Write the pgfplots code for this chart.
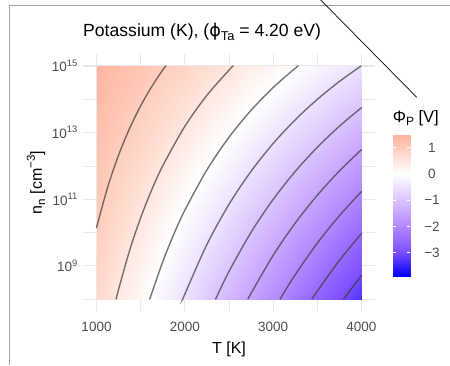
\documentclass[border=0pt]{standalone}
\usepackage{fontspec}
\setmainfont{Liberation Sans}
\newfontfamily\dejavu{DejaVu Sans}
\usepackage{pgfplots}
\pgfplotsset{compat=1.18}
\usepackage{pgfplotstable}

\definecolor{gridc}{RGB}{232,232,232}
\definecolor{tickc}{RGB}{77,77,77}
\definecolor{framec}{RGB}{160,160,160}
\definecolor{linec}{RGB}{60,60,60}

\newcommand\ticksize{\fontsize{13.5}{16}\selectfont}
\newcommand\pw[1]{10\raisebox{0.42em}{\fontsize{9.4}{10}\selectfont #1}}

\pgfplotsset{colormap={phimap}{rgb255(0cm)=(0,0,255) rgb255(1cm)=(126,81,255) rgb255(2cm)=(179,139,255) rgb255(3cm)=(220,197,255) rgb255(4cm)=(255,255,255) rgb255(5cm)=(255,207,191) rgb255(6cm)=(255,158,129) rgb255(7cm)=(255,103,70) rgb255(8cm)=(255,0,0)}}

% Phi_P [V] on a grid: T [K], L = log10(n_n / cm^-3)
\pgfplotstableread{
T L v
1000 8 0.7872
1500 8 0.1364
2000 8 -0.5291
2500 8 -1.2055
3000 8 -1.8906
3500 8 -2.5828
4000 8 -3.2812
1000 9 0.8864
1500 9 0.2852
2000 9 -0.3307
2500 9 -0.9574
3000 9 -1.5929
3500 9 -2.2356
4000 9 -2.8844
1000 10 0.9856
1500 10 0.4340
2000 10 -0.1323
2500 10 -0.7094
3000 10 -1.2953
3500 10 -1.8883
4000 10 -2.4875
1000 11 1.0848
1500 11 0.5828
2000 11 0.0661
2500 11 -0.4614
3000 11 -0.9977
3500 11 -1.5411
4000 11 -2.0907
1000 12 1.1840
1500 12 0.7316
2000 12 0.2645
2500 12 -0.2134
3000 12 -0.7001
3500 12 -1.1939
4000 12 -1.6939
1000 13 1.2832
1500 13 0.8805
2000 13 0.4630
2500 13 0.0347
3000 13 -0.4024
3500 13 -0.8466
4000 13 -1.2970
1000 14 1.3824
1500 14 1.0293
2000 14 0.6614
2500 14 0.2827
3000 14 -0.1048
3500 14 -0.4994
4000 14 -0.9002
1000 15 1.4817
1500 15 1.1781
2000 15 0.8598
2500 15 0.5307
3000 15 0.1928
3500 15 -0.1521
4000 15 -0.5033
}\phidata

\pgfplotstableread{
x y v
0 -3.89 -3.89
1 -3.89 -3.89
0 -3.5 -3.5
1 -3.5 -3.5
0 -3 -3
1 -3 -3
0 -2.5 -2.5
1 -2.5 -2.5
0 -2 -2
1 -2 -2
0 -1.5 -1.5
1 -1.5 -1.5
0 -1 -1
1 -1 -1
0 -0.5 -0.5
1 -0.5 -0.5
0 0 0
1 0 0
0 0.5 0.5
1 0.5 0.5
0 1 1
1 1 1
0 1.485 1.485
1 1.485 1.485
}\cbardata

\begin{document}
\begin{tikzpicture}[x=1pt,y=1pt]
\path[use as bounding box] (0,0) rectangle (450,365);
\draw[framec, line width=1pt] (9,0) -- (9,359.5) -- (450,359.5);

\begin{axis}[
  at={(83pt,54pt)}, anchor=south west,
  width=292pt, height=257pt, scale only axis,
  xmin=847, xmax=4153, ymin=7.64, ymax=15.36,
  axis line style={draw=none},
  major tick length=0pt, minor tick length=0pt,
  xtick={1000,2000,3000,4000}, xticklabels={1000,2000,3000,4000},
  minor xtick={1500,2500,3500},
  ytick={9,11,13,15}, yticklabels={\pw{9},\pw{11},\pw{13},\pw{15}},
  minor ytick={8,10,12,14},
  grid=both,
  major grid style={line width=1.1pt, color=gridc},
  minor grid style={line width=0.6pt, color=gridc},
  tick label style={font=\ticksize, text=tickc},
  xticklabel style={anchor=base, inner sep=0pt, yshift=-20pt},
  yticklabel style={anchor=east, inner sep=0pt, xshift=-5.5pt},
  colormap name=phimap, point meta min=-3.9, point meta max=3.9,
  cline/.style={draw=linec, draw opacity=0.7, line width=1.4pt, smooth, no markers, line cap=round},
]
\addplot[surf, shader=interp, mesh/cols=7, point meta=explicit] table[x=T, y=L, meta=v] {\phidata};
\addplot[cline] coordinates {(1000,10.145) (1125,11.349) (1250,12.323) (1375,13.127) (1500,13.803) (1625,14.380) (1750,14.882) (1785,15.0)};
\addplot[cline] coordinates {(1222,8) (1250,8.291) (1375,9.462) (1500,10.443) (1625,11.279) (1750,12.002) (2000,13.187) (2250,14.120) (2500,14.876) (2546,15.0)};
\addplot[cline] coordinates {(1603,8) (1750,9.122) (1875,9.943) (2000,10.667) (2250,11.880) (2500,12.860) (2750,13.670) (3000,14.352) (3250,14.934) (3283,15.0)};
\addplot[cline] coordinates {(1978,8) (2000,8.147) (2250,9.640) (2500,10.844) (2750,11.838) (3000,12.672) (3250,13.384) (3500,13.998) (3750,14.535) (3995,15.0)};
\addplot[cline] coordinates {(2349,8) (2500,8.828) (2750,10.005) (3000,10.992) (3250,11.833) (3500,12.558) (3750,13.191) (4000,13.748)};
\addplot[cline] coordinates {(2716,8) (2750,8.172) (3000,9.312) (3250,10.282) (3500,11.118) (3750,11.847) (4000,12.488)};
\addplot[cline] coordinates {(3079,8) (3250,8.732) (3500,9.678) (3750,10.503) (4000,11.229)};
\addplot[cline] coordinates {(3440,8) (3500,8.238) (3750,9.159) (4000,9.969)};
\addplot[cline] coordinates {(3799,8) (3875,8.274) (4000,8.709)};
\end{axis}

\begin{axis}[
  at={(392.7pt,89pt)}, anchor=south west,
  width=17.3pt, height=141pt, scale only axis,
  xmin=0, xmax=1, ymin=-3.89, ymax=1.485,
  axis line style={draw=none},
  xtick=\empty,
  ytick={-3,-2,-1,0,1}, yticklabels={−3,−2,−1,0,1},
  ytick pos=both, yticklabel pos=right,
  tick align=inside, major tick length=3.5pt,
  major tick style={white, line width=0.8pt},
  yticklabel style={anchor=center, inner sep=0pt, xshift=22pt, font=\ticksize, text=tickc},
  axis on top,
  colormap name=phimap, point meta min=-3.9, point meta max=3.9,
]
\addplot[surf, shader=interp, mesh/cols=2, point meta=explicit] table[x=x, y=y, meta=v] {\cbardata};
\end{axis}

\node[anchor=base west, inner sep=0pt, font=\fontsize{17.6}{20}\selectfont] at (83,328) {Potassium (K), ({\dejavu ϕ}\raisebox{-3.5pt}{\fontsize{12.8}{14}\selectfont Ta} = 4.20 eV)};
\node[anchor=base, inner sep=0pt, font=\fontsize{16}{19}\selectfont] at (229,12) {T [K]};
\node[rotate=90, anchor=base, inner sep=0pt, font=\fontsize{16}{19}\selectfont] at (42,182.5) {n\raisebox{-3pt}{\fontsize{11.5}{12}\selectfont n} [cm\raisebox{0.45em}{\fontsize{11.5}{12}\selectfont −3}]};
\node[anchor=base west, inner sep=0pt, font=\fontsize{16.5}{19}\selectfont] at (392.7,242.5) {Φ\raisebox{-3pt}{\fontsize{12}{13}\selectfont P} [V]};
\draw[black, line width=0.7pt] (320.7,365) -- (416.7,267.7);
\end{tikzpicture}
\end{document}
